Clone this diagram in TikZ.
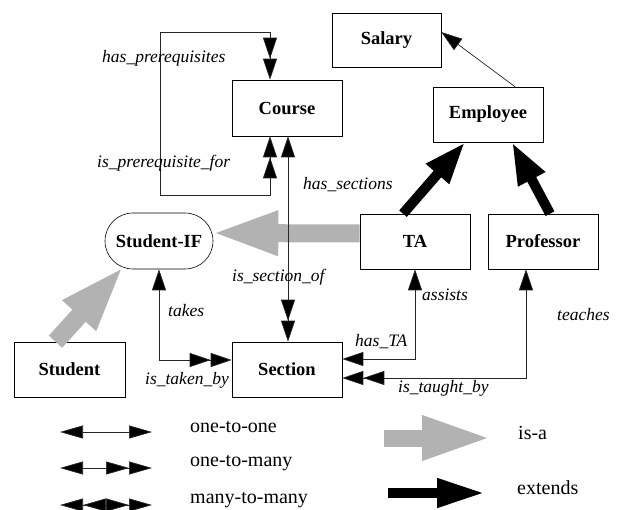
\documentclass[tikz,border=0pt]{standalone}
\usepackage{fontspec}
\setmainfont{Liberation Serif}
\usetikzlibrary{arrows.meta}
\tikzset{
  box/.style={draw, line width=0.6pt, minimum width=110pt, minimum height=55pt, inner sep=0pt, font=\fontsize{18.5}{21}\selectfont\bfseries},
  lbl/.style={anchor=west, inner sep=0pt, font=\fontsize{17.5}{20}\selectfont\itshape},
  leg/.style={anchor=west, inner sep=0pt, font=\fontsize{20}{22}\selectfont},
  rel/.style={line width=0.7pt, draw=black!85},
  tip/.tip={Triangle[length=21pt,width=14pt,fill=black]},
  ttip/.tip={Triangle[length=21pt,width=14pt,fill=black] Triangle[length=21pt,width=14pt,fill=black]},
  ltip/.tip={Triangle[length=23pt,width=13pt,fill=black]},
  lttip/.tip={Triangle[length=23pt,width=13pt,fill=black] Triangle[length=23pt,width=13pt,fill=black]},
  isa/.style={draw=black!30, line width=18pt, -{Triangle[length=68pt,width=40pt,fill=black!30]}},
  ext/.style={draw=black, line width=10pt, -{Triangle[length=42pt,width=28pt]}},
}
\begin{document}
\begin{tikzpicture}[x=1pt,y=-1pt]
\useasboundingbox (0,0) rectangle (623,510);
% nodes
\node[box, minimum width=109pt, minimum height=54pt] (salary) at (386.5,40) {Salary};
\node[box, minimum height=56pt] (course) at (287,108) {Course};
\node[box] (employee) at (488,114.5) {Employee};
\node[box] (ta) at (415,241.5) {TA};
\node[box] (prof) at (543,241.5) {Professor};
\node[box, minimum width=108pt, minimum height=56pt, rounded corners=28pt] (sif) at (159,241) {Student-IF};
\node[box, minimum width=111pt] (student) at (69.5,369.5) {Student};
\node[box] (section) at (287,369.5) {Section};
% is-a arrows
\draw[isa] ([yshift=8pt]ta.west) -- ([xshift=-3pt,yshift=8pt]sif.east);
\draw[isa] ([xshift=-14pt]student.north) -- ([xshift=20pt,yshift=4pt]sif.south west);
% extends arrows
\draw[ext] ([xshift=-12pt]ta.north) -- ([xshift=-23pt]employee.south);
\draw[ext] ([xshift=7pt]prof.north) -- ([xshift=24pt]employee.south);
% relations
\coordinate (loopA) at (160,195);
\coordinate (loopB) at (160,32);
\draw[rel, {ttip}-{ttip}] ([xshift=-17pt]course.south) |- (loopA) -- (loopB) -| ([xshift=-17pt]course.north);
\draw[rel, {tip}-{ttip}] ([xshift=1pt]course.south) -- ([xshift=1pt]section.north);
\draw[rel, {tip}-{ttip}] (sif.south) |- ([yshift=9.5pt]section.west);
\draw[rel, {tip}-{tip}] (ta.south) |- ([yshift=10.5pt]section.east);
\draw[rel, {tip}-{ttip}] ([xshift=-17pt]prof.south) |- ([yshift=-8.5pt]section.east);
\draw[rel, -{tip}] ([xshift=27pt]employee.north) -- ([yshift=8pt]salary.east);
% labels
\node[lbl] (l1) at (102,58) {has\_prerequisites};
\node[lbl] (l2) at (97,163) {is\_prerequisite\_for};
\node[lbl] (l3) at (303,185) {has\_sections};
\node[lbl] (l4) at (232,277) {is\_section\_of};
\node[lbl] (l5) at (168,311) {takes};
\node[lbl] (l6) at (145,380) {is\_taken\_by};
\node[lbl] (l7) at (355,342) {has\_TA};
\node[lbl] (l8) at (422,295) {assists};
\node[lbl] (l9) at (557,315) {teaches};
\node[lbl] (l10) at (398,388) {is\_taught\_by};
% legend
\coordinate (a1) at (60,432); \coordinate (b1) at (152,432);
\coordinate (a2) at (60,468); \coordinate (b2) at (152,468);
\coordinate (a3) at (60,505); \coordinate (b3) at (152,505);
\draw[rel, {ltip}-{ltip}] (a1) -- (b1);
\draw[rel, {ltip}-{lttip}] (a2) -- (b2);
\draw[rel, {lttip}-{lttip}] (a3) -- (b3);
\node[leg] (t1) at (190,427) {one-to-one};
\node[leg] (t2) at (190,463) {one-to-many};
\node[leg] (t3) at (190,500) {many-to-many};
\coordinate (c1) at (384,438); \coordinate (d1) at (493,438);
\coordinate (c2) at (388,493); \coordinate (d2) at (485,493);
\draw[isa, line width=17pt, -{Triangle[length=71pt,width=40pt,fill=black!30]}] (c1) -- (d1);
\draw[ext, -{Triangle[length=48pt,width=27pt]}] (c2) -- (d2);
\node[leg] (t4) at (518,433) {is-a};
\node[leg] (t5) at (517,488) {extends};
\end{tikzpicture}
\end{document}
